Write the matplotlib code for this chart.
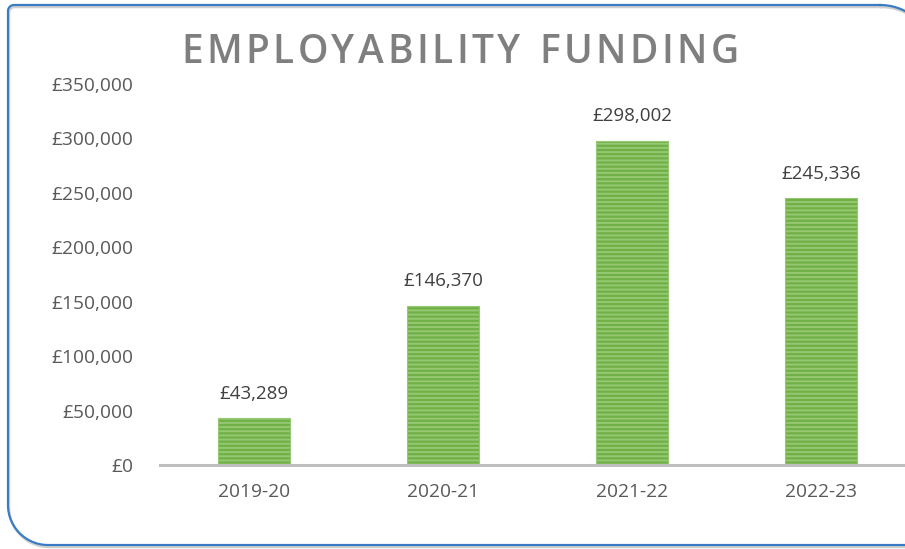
import numpy as np
import matplotlib.pyplot as plt
from matplotlib.ticker import FuncFormatter

years = ['2019-20', '2020-21', '2021-22', '2022-23']
funding = [43289, 146370, 298002, 245336]
y_ticks = [0, 50000, 100000, 150000, 200000, 250000, 300000, 350000]
title = 'EMPLOYABILITY FUNDING'

plt.rcParams['font.family'] = ['Open Sans', 'DejaVu Sans']
plt.rcParams['hatch.color'] = '#c9e5b5'
plt.rcParams['hatch.linewidth'] = 1.4

W, H = 905, 549
fig = plt.figure(figsize=(W / 100, H / 100), dpi=100)
fig.patch.set_facecolor('white')

# overlay in pixel units for the frame and the title
bg = fig.add_axes([0, 0, 1, 1])
bg.set_xlim(0, W)
bg.set_ylim(H, 0)
bg.axis('off')


def rounded_rect(x0, y0, x1, y1, radii, n=30):
    # outline of a rounded rectangle in pixel units (y grows downward);
    # radii: top-right, bottom-right, bottom-left, top-left
    r_tr, r_br, r_bl, r_tl = radii
    corners = [(x1 - r_tr, y0 + r_tr, r_tr, -90, 0),
               (x1 - r_br, y1 - r_br, r_br, 0, 90),
               (x0 + r_bl, y1 - r_bl, r_bl, 90, 180),
               (x0 + r_tl, y0 + r_tl, r_tl, 180, 270)]
    xs, ys = [], []
    for cx, cy, r, a0, a1 in corners:
        a = np.radians(np.linspace(a0, a1, n))
        xs.extend(cx + r * np.cos(a))
        ys.extend(cy + r * np.sin(a))
    xs.append(xs[0])
    ys.append(ys[0])
    return xs, ys


# frame runs off the right edge: the top-right bend shows, the bottom
# line carries straight on past the edge
radii = (55, 4, 40, 6)
sx, sy = rounded_rect(9, 7, 936, 547, radii)
bg.plot(sx, sy, color='#d0d0d0', lw=1.8)
fx, fy = rounded_rect(8, 5, 935, 545, radii)
bg.fill(fx, fy, color='white', zorder=1)
bg.plot(fx, fy, color='#3a7cc4', lw=1.6, zorder=2)

# plot area: x from 159.5 to 915.5 px, zero line at y=465, 350k at y=84
ax = fig.add_axes([159.5 / W, (H - 465) / H, 756 / W, 381 / H])
ax.set_xlim(-0.5, 3.5)
ax.set_ylim(0, 350000)

ax.bar(range(len(years)), funding, width=0.38, color='#70b046', hatch='----',
       edgecolor='#94c872', linewidth=0.8, zorder=2)

for i, v in enumerate(funding):
    ax.annotate(f'£{v:,}', (i, v), xytext=(0, 11), textcoords='offset points',
                ha='center', va='bottom', fontsize=13.5, color='#404040')

ax.set_xticks(range(len(years)))
ax.set_xticklabels(years)
ax.set_yticks(y_ticks)
ax.yaxis.set_major_formatter(FuncFormatter(lambda v, p: f'£{int(v):,}'))
ax.tick_params(axis='both', length=0, labelsize=13.8, labelcolor='#595959')
ax.tick_params(axis='y', pad=19)
ax.tick_params(axis='x', pad=13)

for s in ['top', 'right', 'left']:
    ax.spines[s].set_visible(False)
ax.spines['bottom'].set_color('#bfbfbf')
ax.spines['bottom'].set_linewidth(2.2)
ax.patch.set_alpha(0)

# title with extra letter spacing, spread over x=181..739 px
fig.canvas.draw()
renderer = fig.canvas.get_renderer()
pieces = []
for ch in title:
    t = bg.text(0, 53, ch, fontsize=28, fontweight='semibold', color='#7f7f7f',
                va='center', ha='left', zorder=3)
    pieces.append(t)
widths = []
for ch, t in zip(title, pieces):
    if ch == ' ':
        t.set_text('I')
        w = t.get_window_extent(renderer).width
        t.set_text(' ')
    else:
        w = t.get_window_extent(renderer).width
    widths.append(w)
left, right = 181, 739
gap = (right - left - sum(widths)) / (len(title) - 1)
x = left
for t, w in zip(pieces, widths):
    t.set_x(x)
    x += w + gap

fig.savefig('out.png', dpi=100)
